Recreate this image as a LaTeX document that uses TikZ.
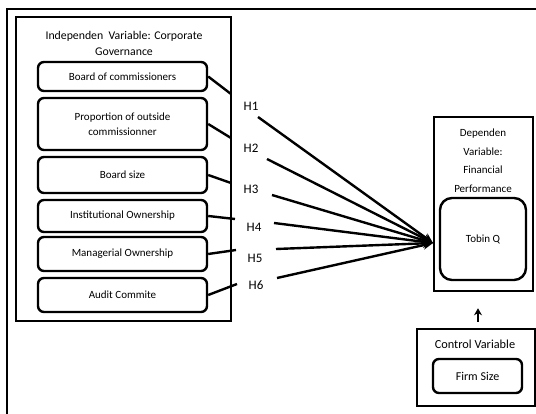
\documentclass[tikz,border=0pt]{standalone}
\usepackage{fontspec}
\setmainfont{Carlito}
\usetikzlibrary{arrows.meta}

\begin{document}
\begin{tikzpicture}[x=1pt, y=-1pt,
  framesty/.style={draw, line width=2.6pt, inner sep=0pt},
  varsty/.style={draw, line width=2.4pt, rounded corners=6pt, minimum width=169pt, align=center, inner sep=0pt, font=\fontsize{11}{15}\selectfont},
  titlesty/.style={align=center, inner sep=0pt, font=\fontsize{11}{18.5}\selectfont},
  hsty/.style={inner sep=0pt, font=\fontsize{13}{15}\selectfont},
  linksty/.style={line width=2.4pt},
  arrow/.style={line width=2.4pt, -{Stealth[length=10pt, width=9pt]}}]

\clip (0,0) rectangle (536,414);
\useasboundingbox (0,0) rectangle (536,414);

% outer frame, runs off the page on the right and at the bottom
\draw[framesty] (7,9) rectangle (570,450);

% independent variables
\node[framesty, minimum width=215pt, minimum height=304pt] (indep) at (123.5,169) {};
\node[titlesty, font=\fontsize{11.8}{16}\selectfont] (indeptitle) at (124,43) {Independen~~Variable: Corporate\\Governance};

\node[varsty, minimum height=29pt] (board)  at (122.5,76.5) {Board of commissioners};
\node[varsty, minimum height=52pt] (outside) at (122.5,124) {Proportion of outside\\commissionner};
\node[varsty, minimum height=36pt] (size)   at (122.5,175) {Board size};
\node[varsty, minimum height=32pt] (inst)   at (122.5,216) {Institutional Ownership};
\node[varsty, minimum height=34pt] (manag)  at (122.5,254) {Managerial Ownership};
\node[varsty, minimum height=34pt] (audit)  at (122.5,295) {Audit Commite};

% dependent variable
\node[framesty, minimum width=99pt, minimum height=174pt] (dep) at (483.5,204) {};
\node[titlesty] (deptitle) at (483,160.5) {Dependen\\Variable:\\Financial\\Performance};
\node[draw, line width=2.4pt, rounded corners=12pt, minimum width=86pt, minimum height=82pt, font=\fontsize{11}{13}\selectfont] (tobin) at (483,239) {Tobin Q};

% control variable
\node[framesty, minimum width=118pt, minimum height=77pt] (ctrl) at (476,367.5) {};
\node[titlesty, font=\fontsize{12.3}{14}\selectfont] (ctrltitle) at (475,344) {Control~Variable};
\node[varsty, minimum width=89pt, minimum height=34pt, font=\fontsize{12}{14}\selectfont] (firm) at (477.5,376) {Firm Size};

% hypotheses
\node[hsty] (h1) at (251,106) {H1};
\node[hsty] (h2) at (251,148) {H2};
\node[hsty] (h3) at (251,189) {H3};
\node[hsty] (h4) at (254,227) {H4};
\node[hsty] (h5) at (255,258) {H5};
\node[hsty] (h6) at (256,285) {H6};

\coordinate (tip) at (433,243);
\coordinate (h1in) at (231,94);  \coordinate (h1out) at (258,117);
\coordinate (h2in) at (231,138); \coordinate (h2out) at (267,159);
\coordinate (h3in) at (231,183); \coordinate (h3out) at (272,195);
\coordinate (h4in) at (235,219); \coordinate (h4out) at (274,223);
\coordinate (h5in) at (236,250); \coordinate (h5out) at (276,249);
\coordinate (h6in) at (237,284); \coordinate (h6out) at (277,278);

\draw[linksty] (board.east) -- (h1in);
\draw[linksty] (outside.east) -- (h2in);
\draw[linksty] (size.east) -- (h3in);
\draw[linksty] (inst.east) -- (h4in);
\draw[linksty] (manag.east) -- (h5in);
\draw[linksty] (audit.east) -- (h6in);

\draw[arrow] (h1out) -- (tip);
\draw[arrow] (h2out) -- (tip);
\draw[arrow] (h3out) -- (tip);
\draw[arrow] (h4out) -- (tip);
\draw[arrow] (h5out) -- (tip);
\draw[arrow] (h6out) -- (tip);

\draw[arrow, -{Stealth[length=7pt, width=8pt]}, shorten <=6pt, shorten >=16pt] ([xshift=2pt]ctrl.north) -- ([xshift=2pt]ctrl.north |- dep.south);

\end{tikzpicture}
\end{document}
